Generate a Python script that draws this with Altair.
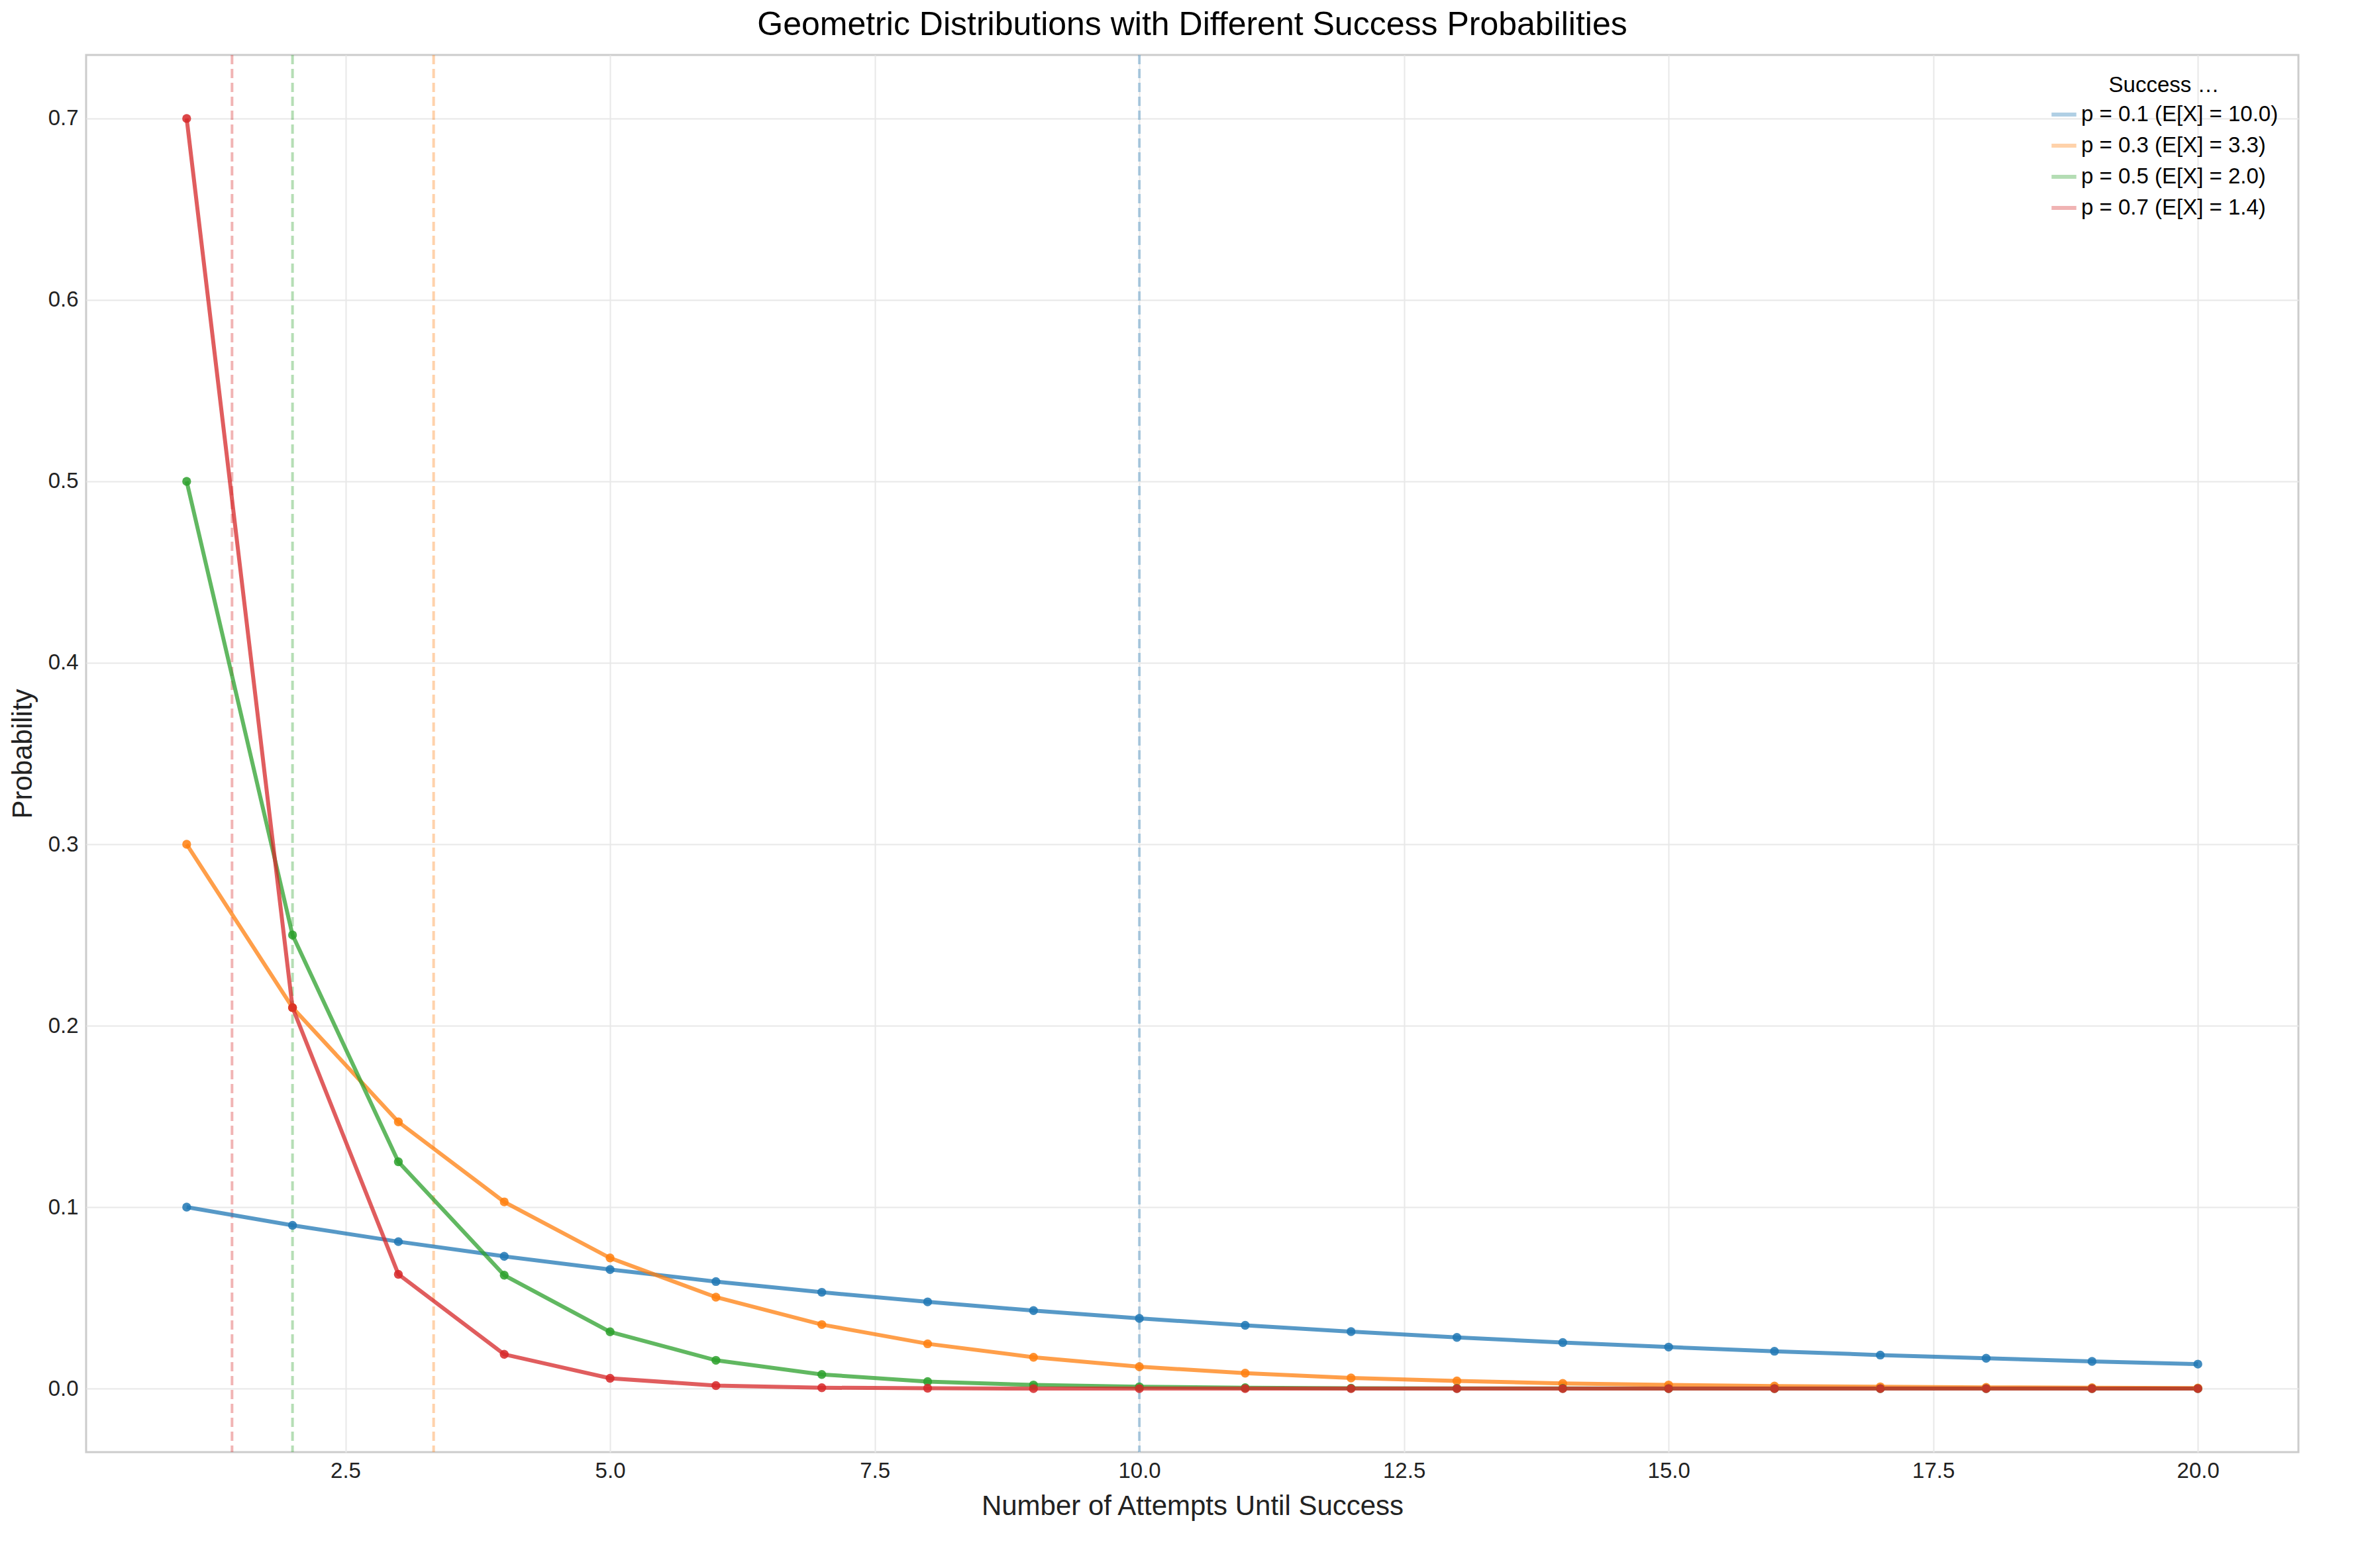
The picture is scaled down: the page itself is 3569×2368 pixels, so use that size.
import altair as alt
import pandas as pd

attempts = list(range(1, 21))
p01 = [0.1, 0.09, 0.081, 0.0729, 0.0656, 0.0590, 0.0531, 0.0478, 0.0430, 0.0387,
       0.0349, 0.0314, 0.0282, 0.0254, 0.0229, 0.0206, 0.0185, 0.0167, 0.0150, 0.0135]
p03 = [0.3, 0.21, 0.147, 0.1029, 0.0720, 0.0504, 0.0353, 0.0247, 0.0173, 0.0121,
       0.0085, 0.0059, 0.0042, 0.0029, 0.0020, 0.0014, 0.0010, 0.0007, 0.0005, 0.0003]
p05 = [0.5, 0.25, 0.125, 0.0625, 0.0313, 0.0156, 0.0078, 0.0039, 0.0020, 0.0010,
       0.0005, 0.0002, 0.0001, 0.0001, 0.0, 0.0, 0.0, 0.0, 0.0, 0.0]
p07 = [0.7, 0.21, 0.063, 0.0189, 0.0057, 0.0017, 0.0005, 0.0002, 0.0, 0.0,
       0.0, 0.0, 0.0, 0.0, 0.0, 0.0, 0.0, 0.0, 0.0, 0.0]
labels = ["p = 0.1 (E[X] = 10.0)", "p = 0.3 (E[X] = 3.3)",
          "p = 0.5 (E[X] = 2.0)", "p = 0.7 (E[X] = 1.4)"]
means = [10.0, 3.333, 2.0, 1.4286]
colors = ["#1f77b4", "#ff7f0e", "#2ca02c", "#d62728"]

rows = []
for lab, vals in zip(labels, [p01, p03, p05, p07]):
    for k, v in zip(attempts, vals):
        rows.append({"k": k, "prob": v, "series": lab})
df = pd.DataFrame(rows)
mdf = pd.DataFrame({"mean": means, "series": labels})

color = alt.Color("series:N", sort=labels,
                  scale=alt.Scale(domain=labels, range=colors),
                  legend=alt.Legend(title="Success Probability", orient="top-right",
                                    symbolType="stroke", symbolStrokeWidth=6,
                                    symbolSize=1400, titleFontSize=33, labelFontSize=33,
                                    titleFontWeight="normal", labelFont="Liberation Sans",
                                    titleFont="Liberation Sans", rowPadding=8,
                                    offset=20, titleAnchor="middle", padding=10,
                                    labelLimit=600))

x = alt.X("k:Q", title="Number of Attempts Until Success",
          scale=alt.Scale(domain=[0.05, 20.95], nice=False, zero=False),
          axis=alt.Axis(values=[2.5, 5, 7.5, 10, 12.5, 15, 17.5, 20], format=".1f"))
y = alt.Y("prob:Q", title="Probability",
          scale=alt.Scale(domain=[-0.035, 0.735], nice=False, zero=False),
          axis=alt.Axis(values=[0, 0.1, 0.2, 0.3, 0.4, 0.5, 0.6, 0.7], format=".1f"))

vlines = alt.Chart(mdf).mark_rule(strokeDash=[14, 7], strokeWidth=4, opacity=0.35).encode(
    x=alt.X("mean:Q"), color=color)
lines = alt.Chart(df).mark_line(strokeWidth=6, opacity=0.75).encode(x=x, y=y, color=color)
points = alt.Chart(df).mark_circle(size=180, opacity=0.85).encode(x=x, y=y, color=color)

chart = (vlines + lines + points).properties(
    width=3340, height=2110,
    title=alt.TitleParams("Geometric Distributions with Different Success Probabilities",
                          fontSize=50, fontWeight="normal", font="Liberation Sans", offset=18),
).configure_view(stroke="#cccccc", strokeWidth=3).configure_axis(
    grid=True, gridColor="#e8e8e8", gridWidth=2, domain=False, ticks=False,
    labelFontSize=33, titleFontSize=42, titleFontWeight="normal",
    labelFont="Liberation Sans", titleFont="Liberation Sans", labelColor="#222", titleColor="#222",
    labelPadding=12, titlePadding=16,
)

chart.save("out.html", embed_options={"renderer": "svg", "actions": False})
